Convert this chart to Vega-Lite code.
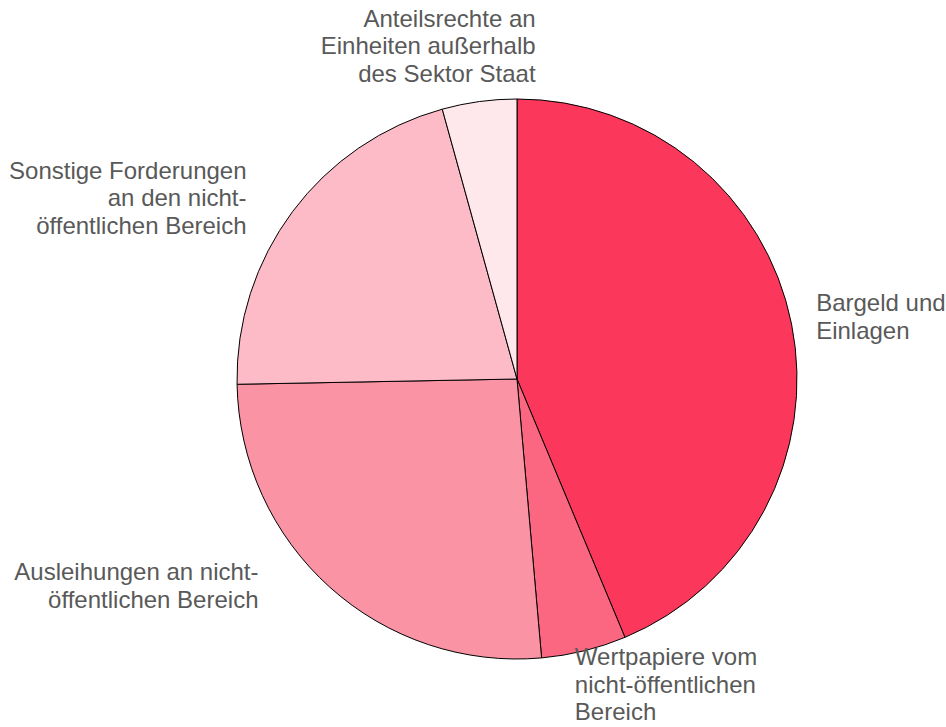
{
  "$schema": "https://vega.github.io/schema/vega-lite/v6.json",
  "autosize": {"type": "none"},
  "width": 560,
  "height": 560,
  "padding": {"left": 237, "top": 99, "right": 149, "bottom": 68},
  "background": "white",
  "config": {"view": {"stroke": null}},
  "data": {
    "values": [
      {"cat": "Bargeld und Einlagen", "label": "Bargeld und\nEinlagen", "value": 43.7, "ord": 1},
      {"cat": "Wertpapiere vom nicht-öffentlichen Bereich", "label": "Wertpapiere vom\nnicht-öffentlichen\nBereich", "value": 4.9, "ord": 2},
      {"cat": "Ausleihungen an nicht-öffentlichen Bereich", "label": "Ausleihungen an nicht-\nöffentlichen Bereich", "value": 26.1, "ord": 3},
      {"cat": "Sonstige Forderungen an den nicht-öffentlichen Bereich", "label": "Sonstige Forderungen\nan den nicht-\nöffentlichen Bereich", "value": 21.0, "ord": 4},
      {"cat": "Anteilsrechte an Einheiten außerhalb des Sektor Staat", "label": "Anteilsrechte an\nEinheiten außerhalb\ndes Sektor Staat", "value": 4.3, "ord": 5}
    ]
  },
  "encoding": {
    "theta": {"field": "value", "type": "quantitative", "stack": true},
    "order": {"field": "ord", "type": "quantitative", "sort": "ascending"}
  },
  "layer": [
    {
      "mark": {"type": "arc", "stroke": "#000000", "strokeWidth": 1},
      "encoding": {
        "color": {
          "field": "cat",
          "type": "nominal",
          "legend": null,
          "scale": {
            "domain": ["Bargeld und Einlagen", "Wertpapiere vom nicht-öffentlichen Bereich", "Ausleihungen an nicht-öffentlichen Bereich", "Sonstige Forderungen an den nicht-öffentlichen Bereich", "Anteilsrechte an Einheiten außerhalb des Sektor Staat"],
            "range": ["#FB385C", "#FB6780", "#FA93A3", "#FCBBC7", "#FEE8EB"]
          }
        }
      }
    },
    {
      "mark": {"type": "text", "radius": 300, "align": "left", "baseline": "middle", "dx": 5, "dy": -16, "font": "Liberation Sans", "fontSize": 24, "lineHeight": 27.5, "lineBreak": "\n", "fill": "#595959"},
      "encoding": {"text": {"condition": {"test": "datum.ord === 1", "field": "label"}, "value": ""}}
    },
    {
      "mark": {"type": "text", "radius": 300, "align": "left", "baseline": "middle", "dx": -14, "dy": -12, "font": "Liberation Sans", "fontSize": 24, "lineHeight": 27.5, "lineBreak": "\n", "fill": "#595959"},
      "encoding": {"text": {"condition": {"test": "datum.ord === 2", "field": "label"}, "value": ""}}
    },
    {
      "mark": {"type": "text", "radius": 300, "align": "right", "baseline": "middle", "dx": -58, "dy": -29, "font": "Liberation Sans", "fontSize": 24, "lineHeight": 27.5, "lineBreak": "\n", "fill": "#595959"},
      "encoding": {"text": {"condition": {"test": "datum.ord === 3", "field": "label"}, "value": ""}}
    },
    {
      "mark": {"type": "text", "radius": 300, "align": "right", "baseline": "middle", "dx": -30, "dy": -28, "font": "Liberation Sans", "fontSize": 24, "lineHeight": 27.5, "lineBreak": "\n", "fill": "#595959"},
      "encoding": {"text": {"condition": {"test": "datum.ord === 4", "field": "label"}, "value": ""}}
    },
    {
      "mark": {"type": "text", "radius": 300, "align": "right", "baseline": "middle", "dx": 59, "dy": -62, "font": "Liberation Sans", "fontSize": 24, "lineHeight": 27.5, "lineBreak": "\n", "fill": "#595959"},
      "encoding": {"text": {"condition": {"test": "datum.ord === 5", "field": "label"}, "value": ""}}
    }
  ]
}
